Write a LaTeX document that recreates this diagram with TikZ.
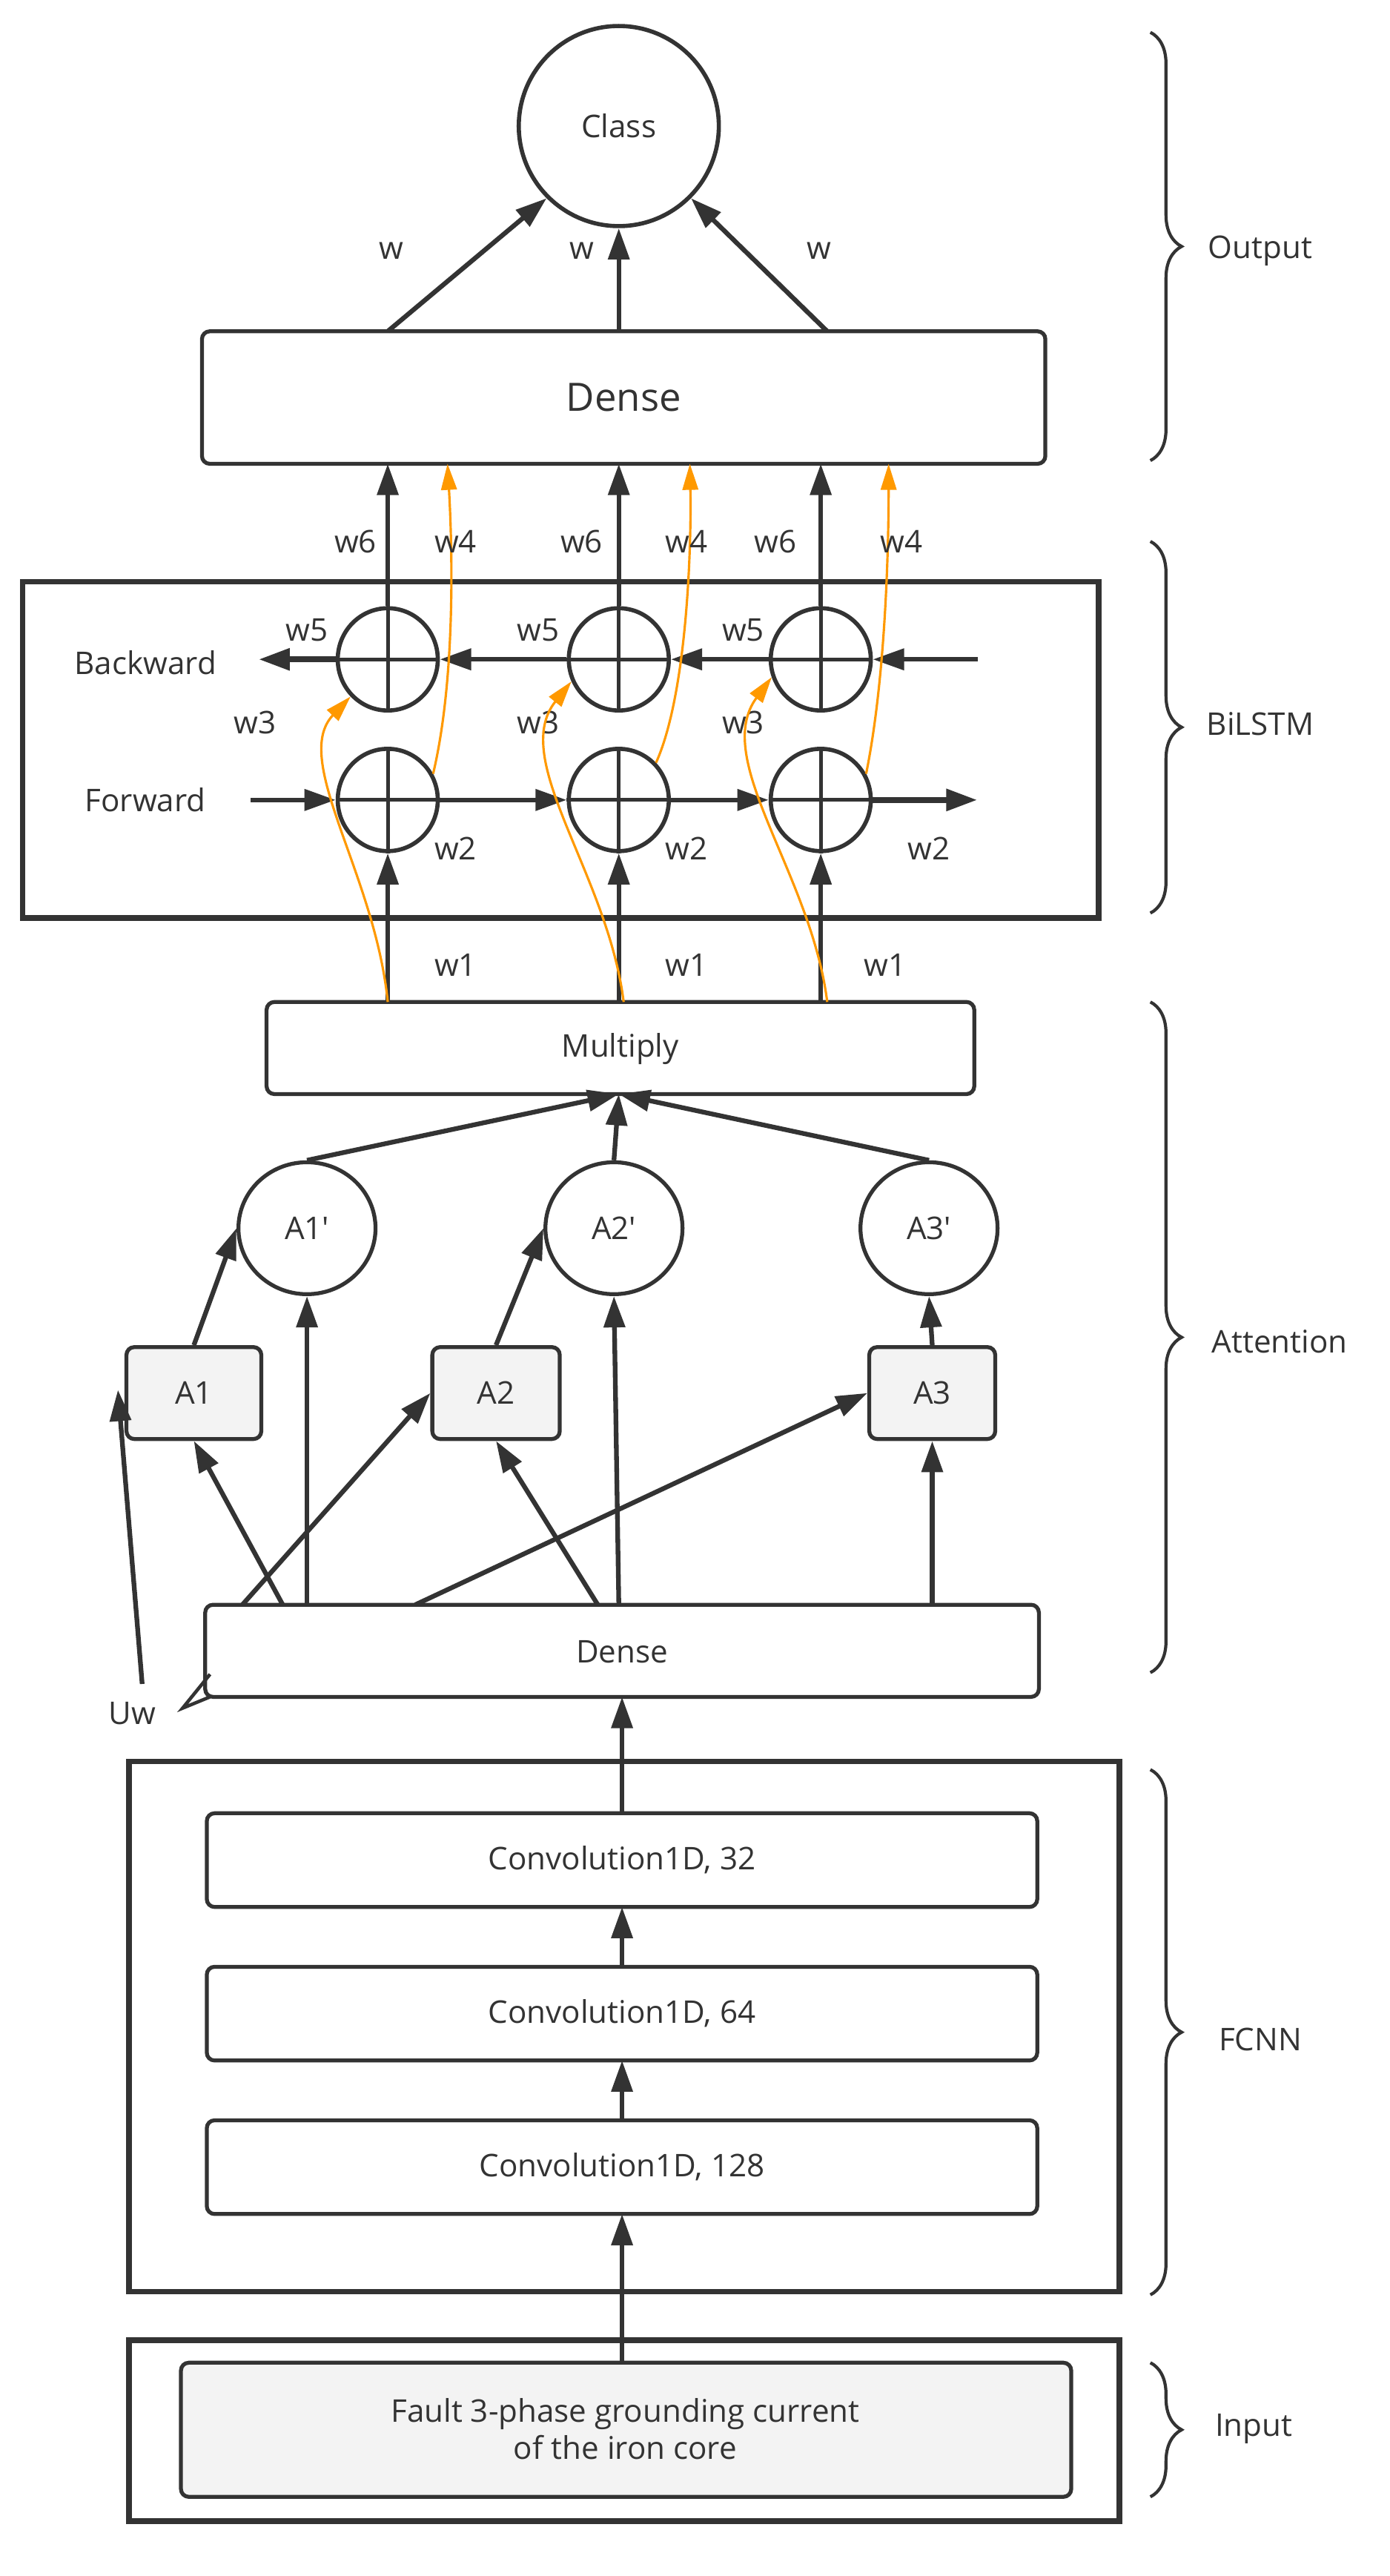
\documentclass[tikz,border=0pt]{standalone}
\usepackage{fontspec}
\setmainfont{Open Sans}
\usetikzlibrary{arrows.meta,decorations.pathreplacing,shapes.geometric}
\definecolor{dk}{HTML}{333333}
\definecolor{og}{HTML}{FF9900}
\definecolor{gy}{HTML}{F3F3F3}
\begin{document}
\begin{tikzpicture}[x=0.0218cm,y=-0.0218cm,
  every node/.style={text=dk,font=\fontsize{12}{14}\selectfont},
  box/.style={draw=dk,line width=1.5pt,rounded corners=3pt},
  frame/.style={draw=dk,line width=2.2pt},
  arr/.style={draw=dk,line width=1.8pt,-{Triangle[length=12pt,width=8pt]}},
  oarr/.style={draw=og,line width=0.9pt,-{Triangle[length=10pt,width=6pt]}},
  cellst/.style={draw=dk,line width=1.6pt,ellipse,minimum width=1.35cm,minimum height=1.38cm,inner sep=0pt},
  br/.style={draw=dk,line width=1.2pt,decorate,decoration={brace,amplitude=12pt}}]
\useasboundingbox (0,0) rectangle (860,1594);
% ---------- Output
\node[draw=dk,line width=1.6pt,circle,minimum size=2.7cm] (cls) at (383,78) {Class};
\draw[box] (125,205) rectangle (647,287);
\node[font=\fontsize{15}{17}\selectfont] (dense2) at (386,246) {Dense};
\coordinate (d2a) at (240,205); \coordinate (d2b) at (383,205); \coordinate (d2c) at (512,205);
\draw[arr] (d2a) -- (cls.225);
\draw[arr] (d2b) -- (cls.south);
\draw[arr] (d2c) -- (cls.-45);
\node (wa) at (242,155) {w}; \node (wb) at (360,155) {w}; \node (wc) at (507,155) {w};
\draw[br] (712,20) -- (712,285); \node (lo) at (780,155) {Output};
% ---------- BiLSTM
\draw[frame] (14,360) rectangle (680,568);
\draw[br] (712,335) -- (712,565); \node (lb) at (780,448) {BiLSTM};
\foreach \i/\x in {1/240,2/383,3/508}{
  \node[cellst] (b\i) at (\x,408) {};
  \node[cellst] (f\i) at (\x,495) {};
  \draw[dk,line width=1.4pt] (b\i.north) -- (b\i.south) (b\i.west) -- (b\i.east);
  \draw[dk,line width=1.4pt] (f\i.north) -- (f\i.south) (f\i.west) -- (f\i.east);
}
\node (bw) at (90,410) {Backward};
\node (fw) at (90,495) {Forward};
\coordinate (bin) at (605,408); \coordinate (bout) at (160,408);
\coordinate (fin) at (155,495); \coordinate (fout) at (605,495);
\draw[arr] (bin) -- (b3.east);
\draw[arr] (b3.west) -- (b2.east);
\draw[arr] (b2.west) -- (b1.east);
\draw[arr,line width=2.4pt] (b1.west) -- (bout);
\draw[arr] (fin) -- (f1.west);
\draw[arr] (f1.east) -- (f2.west);
\draw[arr] (f2.east) -- (f3.west);
\draw[arr,line width=2.4pt] (f3.east) -- (fout);
\foreach \x [count=\i] in {240,383,508}{\coordinate (dbot\i) at (\x,287);}
\draw[arr] (b1.north) -- (dbot1);
\draw[arr] (b2.north) -- (dbot2);
\draw[arr] (b3.north) -- (dbot3);
\coordinate (o1) at (277,287); \coordinate (o2) at (427,287); \coordinate (o3) at (550,287);
\draw[oarr] (f1.30) .. controls (282,420) and (280,340) .. (o1);
\draw[oarr] (f2.45) .. controls (425,430) and (428,340) .. (o2);
\draw[oarr] (f3.30) .. controls (548,420) and (550,340) .. (o3);
\foreach \x/\t in {220/w6,282/w4,360/w6,425/w4,480/w6,558/w4}{\node at (\x,335) {\t};}
\foreach \x in {190,333,460}{\node at (\x,390) {w5};}
\foreach \x in {158,333,460}{\node at (\x,447) {w3};}
\foreach \x in {282,425,575}{\node at (\x,525) {w2};}
\foreach \x in {282,425,548}{\node at (\x,597) {w1};}
% ---------- Attention
\draw[box] (165,620) rectangle (603,677);
\node (mul) at (384,649) {Multiply};
\coordinate (mc) at (383,677);
\foreach \x [count=\i] in {240,383,508}{\coordinate (mt\i) at (\x,620);}
\draw[arr] (mt1) -- (f1.south);
\draw[arr] (mt2) -- (f2.south);
\draw[arr] (mt3) -- (f3.south);
\draw[oarr] (mt1) .. controls (232,540) and (180,470) .. (b1.225);
\draw[oarr] (386,620) .. controls (376,540) and (315,470) .. (b2.205);
\draw[oarr] (512,620) .. controls (502,540) and (440,470) .. (b3.200);
\foreach \i/\x in {1/190,2/380,3/575}{
  \node[draw=dk,line width=1.5pt,ellipse,minimum width=1.85cm,minimum height=1.78cm,inner sep=0pt] (ap\i) at (\x,760) {A\i\textquotesingle};
}
\node[box,fill=gy,minimum width=1.82cm,minimum height=1.24cm] (a1) at (120,862) {A1};
\node[box,fill=gy,minimum width=1.72cm,minimum height=1.24cm] (a2) at (307,862) {A2};
\node[box,fill=gy,minimum width=1.70cm,minimum height=1.24cm] (a3) at (577,862) {A3};
\draw[arr] (ap1.north) -- (mc);
\draw[arr] (ap2.north) -- (mc);
\draw[arr] (ap3.north) -- (mc);
\draw[arr] (a1.north) -- (ap1.west);
\draw[arr] (a2.north) -- (ap2.west);
\draw[arr] (a3.north) -- (ap3.south);
\draw[box] (127,993) rectangle (643,1050);
\node (dense1) at (385,1022) {Dense};
\foreach \n/\x in {p/150,q/175,r/190,s/257,t/370,u/383,v/577}{\coordinate (dt\n) at (\x,993);}
\draw[arr] (dtq) -- (a1.south);
\draw[arr] (dtr) -- (ap1.south);
\draw[arr] (dtp) -- (a2.west);
\draw[arr] (dtt) -- (a2.south);
\draw[arr] (dtu) -- (ap2.south);
\draw[arr] (dts) -- (a3.west);
\draw[arr] (dtv) -- (a3.south);
\node (uw) at (82,1060) {Uw};
\coordinate (uwt) at (73,860);
\draw[arr] (88,1042) -- (uwt);
\draw[dk,line width=1.3pt] (130,1036) -- (113,1057) -- (130,1050);
\draw[br] (712,620) -- (712,1035); \node (la) at (792,830) {Attention};
% ---------- FCNN
\draw[frame] (80,1090) rectangle (693,1418);
\draw[br] (712,1095) -- (712,1420); \node (lf) at (780,1262) {FCNN};
\draw[box] (128,1122) rectangle (642,1180); \node (c32) at (385,1151) {Convolution1D, 32};
\draw[box] (128,1217) rectangle (642,1275); \node (c64) at (385,1246) {Convolution1D, 64};
\draw[box] (128,1312) rectangle (642,1370); \node (c128) at (385,1341) {Convolution1D, 128};
\draw[arr] (385,1122) -- (385,1050);
\draw[arr] (385,1217) -- (385,1180);
\draw[arr] (385,1312) -- (385,1275);
\draw[arr] (385,1462) -- (385,1370);
% ---------- Input
\draw[frame] (80,1448) rectangle (693,1560);
\draw[box,fill=gy] (112,1462) rectangle (663,1545);
\node[align=center] (inp) at (387,1503) {Fault 3-phase grounding current\\of the iron core};
\draw[br] (712,1462) -- (712,1545); \node (li) at (776,1503) {Input};
\end{tikzpicture}
\end{document}
